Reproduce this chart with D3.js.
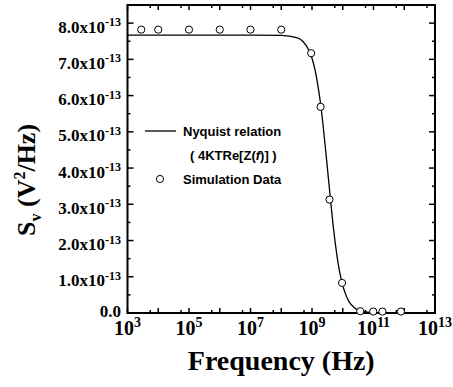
<!DOCTYPE html>
<html lang="en">
<head>
    <meta charset="UTF-8">
    <title>Nyquist noise</title>
    <style>
        body { margin: 0; background: #fff; }
        svg { display: block; }
        .serif { font-family: "Liberation Serif", "Times New Roman", serif; font-weight: bold; }
        .sans { font-family: "Liberation Sans", Arial, sans-serif; font-weight: bold; }
    </style>
</head>
<body>
    <div id="chart"></div>
    <script src="https://d3js.org/d3.v7.min.js"></script>
    <script>
        // Nyquist relation curve (frequency in Hz, Sv in units of 1e-13 V^2/Hz)
        const curveFreq = [1e3, 1e5, 1e7, 1e8, 3.16e8, 5e8, 7.9e8, 1e9, 1.26e9, 1.58e9, 2e9, 2.5e9, 3.16e9,
            3.98e9, 5e9, 6.3e9, 7.9e9, 1e10, 1.26e10, 1.58e10, 2.5e10, 4e10, 1e11, 1e12, 1e13];
        const curveSv = [7.67, 7.67, 7.67, 7.66, 7.60, 7.50, 7.25, 7.03, 6.70, 6.24, 5.63, 4.87, 4.01,
            3.14, 2.33, 1.66, 1.14, 0.76, 0.50, 0.32, 0.13, 0.05, 0.01, 0, 0];

        // Simulation data points
        const simFreq = [2.8e3, 1e4, 1e5, 1e6, 1e7, 1e8, 9.4e8, 1.9e9, 3.7e9, 9.5e9, 3.7e10, 9.8e10, 1.95e11, 7.8e11];
        const simSv = [7.82, 7.82, 7.82, 7.82, 7.82, 7.82, 7.17, 5.69, 3.13, 0.83, 0.05, 0.04, 0.04, 0.04];

        // Axis ticks
        const xMajorExp = [3, 4, 5, 6, 7, 8, 9, 10, 11, 12, 13];
        const xLabelExp = [3, 5, 7, 9, 11, 13];
        const yMajor = [0, 1, 2, 3, 4, 5, 6, 7, 8];
        const yMinor = [0.5, 1.5, 2.5, 3.5, 4.5, 5.5, 6.5, 7.5];

        const width = 453, height = 387;
        const margin = { left: 127.5, right: 18, top: 5, bottom: 74 };
        const x0 = margin.left, x1 = width - margin.right;
        const y0 = height - margin.bottom, y1 = margin.top;

        const svg = d3.select("#chart").append("svg")
            .attr("width", width)
            .attr("height", height);

        const x = d3.scaleLog().domain([1e3, 1e13]).range([x0, x1]);
        const y = d3.scaleLinear().domain([0, 8.5]).range([y0, y1]);

        // minor x ticks sit at the linear midpoint of each decade (Origin style)
        const xMinor = xMajorExp.slice(0, -1).map(e => 5.5 * Math.pow(10, e));
        const xMajor = xMajorExp.map(e => Math.pow(10, e));

        const ticks = svg.append("g").attr("stroke", "#000").attr("stroke-width", 1.5);
        // bottom + top
        [[y0, -1], [y1, 1]].forEach(([yy, dir]) => {
            ticks.selectAll(null).data(xMajor).enter().append("line")
                .attr("x1", d => x(d)).attr("x2", d => x(d))
                .attr("y1", yy).attr("y2", yy + dir * 5);
            ticks.selectAll(null).data(xMinor).enter().append("line")
                .attr("x1", d => x(d)).attr("x2", d => x(d))
                .attr("y1", yy).attr("y2", yy + dir * 3);
        });
        // left + right
        [[x0, 1], [x1, -1]].forEach(([xx, dir]) => {
            ticks.selectAll(null).data(yMajor).enter().append("line")
                .attr("y1", d => y(d)).attr("y2", d => y(d))
                .attr("x1", xx).attr("x2", xx + dir * 6);
            ticks.selectAll(null).data(yMinor).enter().append("line")
                .attr("y1", d => y(d)).attr("y2", d => y(d))
                .attr("x1", xx).attr("x2", xx + dir * 3);
        });

        // frame
        svg.append("rect")
            .attr("x", x0).attr("y", y1)
            .attr("width", x1 - x0).attr("height", y0 - y1)
            .attr("fill", "none").attr("stroke", "#000").attr("stroke-width", 2);

        // y tick labels
        const yLab = svg.append("g").attr("class", "serif").attr("text-anchor", "end");
        yMajor.forEach(v => {
            const t = yLab.append("text").attr("x", 121).attr("font-size", 17);
            if (v === 0) {
                t.attr("y", y(v) + 4).text("0.0");
            } else {
                t.attr("y", y(v) + 9.5);
                t.append("tspan").text(v.toFixed(1) + "x10");
                t.append("tspan").attr("font-size", 12).attr("dy", -6.5).text("-13");
            }
        });

        // x tick labels
        const xLab = svg.append("g").attr("class", "serif").attr("text-anchor", "middle");
        xLabelExp.forEach(e => {
            const t = xLab.append("text").attr("x", x(Math.pow(10, e))).attr("y", 335).attr("font-size", 20);
            t.append("tspan").text("10");
            t.append("tspan").attr("font-size", 14).attr("dy", -8).text(e);
        });

        // axis titles
        svg.append("text").attr("class", "serif")
            .attr("x", (x0 + x1) / 2).attr("y", 370)
            .attr("text-anchor", "middle").attr("font-size", 28)
            .text("Frequency (Hz)");

        const yt = svg.append("text").attr("class", "serif")
            .attr("transform", "translate(35,236) rotate(-90)")
            .attr("font-size", 26);
        yt.append("tspan").text("S");
        yt.append("tspan").attr("font-size", 16).attr("dy", 6).text("v");
        yt.append("tspan").attr("dy", -6).text(" (V");
        yt.append("tspan").attr("font-size", 16).attr("dy", -10).text("2");
        yt.append("tspan").attr("dy", 10).text("/Hz)");

        // Nyquist curve
        const line = d3.line()
            .x((d, i) => x(curveFreq[i]))
            .y(d => y(d))
            .curve(d3.curveMonotoneX);
        svg.append("path")
            .datum(curveSv)
            .attr("d", line)
            .attr("fill", "none")
            .attr("stroke", "#000")
            .attr("stroke-width", 1.3);

        // simulation circles
        svg.append("g").selectAll("circle")
            .data(simSv).enter().append("circle")
            .attr("cx", (d, i) => x(simFreq[i]))
            .attr("cy", d => y(d))
            .attr("r", 3.6)
            .attr("fill", "#fff")
            .attr("stroke", "#000")
            .attr("stroke-width", 1);

        // legend
        const lg = svg.append("g").attr("class", "sans").attr("font-size", 13);
        lg.append("line").attr("x1", 145).attr("x2", 176).attr("y1", 131).attr("y2", 131)
            .attr("stroke", "#000").attr("stroke-width", 1.3);
        lg.append("text").attr("x", 183).attr("y", 135.5).text("Nyquist relation");
        const l2 = lg.append("text").attr("x", 190).attr("y", 159.5);
        l2.append("tspan").text("( 4KTRe[Z(");
        l2.append("tspan").attr("font-style", "italic").text("f");
        l2.append("tspan").text(")] )");
        lg.append("circle").attr("cx", 160).attr("cy", 179).attr("r", 3.6)
            .attr("fill", "#fff").attr("stroke", "#000");
        lg.append("text").attr("x", 183).attr("y", 183.5).text("Simulation Data");
    </script>
</body>
</html>
